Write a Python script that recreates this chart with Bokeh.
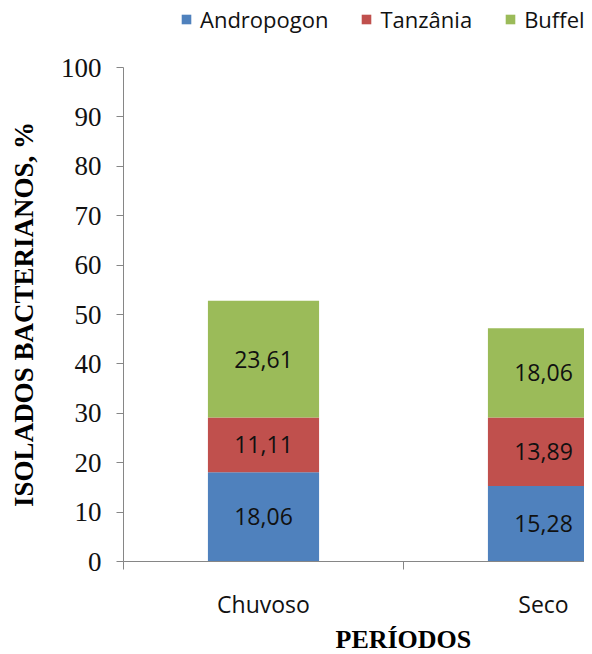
from bokeh.plotting import figure
from bokeh.models import (ColumnDataSource, Range1d, FixedTicker, Legend, LegendItem, Title)
from bokeh.layouts import column
from bokeh.core.properties import value
from bokeh.embed import file_html
from bokeh.resources import INLINE

periods = ["Chuvoso", "Seco"]
series = ["Andropogon", "Tanzânia", "Buffel"]
andropogon = [18.06, 15.28]
tanzania = [11.11, 13.89]
buffel = [23.61, 18.06]
y_ticks = [0, 10, 20, 30, 40, 50, 60, 70, 80, 90, 100]
colors = ["#4F81BD", "#C0504D", "#9BBB59"]

xpos = [i + 0.5 for i in range(len(periods))]
src = ColumnDataSource(dict(x=xpos, a=andropogon, t=tanzania, b=buffel))

W = 584
LEG_H = 40
SANS = "Open Sans"
p = figure(width=W, height=654 - LEG_H, output_backend="svg", toolbar_location=None,
           x_range=Range1d(0, (W - 123) / 280), y_range=Range1d(0, 100),
           min_border_left=123, min_border_right=0, min_border_top=67 - LEG_H,
           min_border_bottom=93)
p.outline_line_color = None
p.xgrid.visible = False
p.ygrid.visible = False

rs = p.vbar_stack(["a", "t", "b"], x="x", width=0.397, source=src, color=colors, line_color=None)

# value labels
lx, ly, lt = [], [], []
for i, xv in enumerate(xpos):
    base = 0
    for vals in (andropogon, tanzania, buffel):
        v = vals[i]
        lx.append(xv)
        ly.append(base + v / 2)
        lt.append(f"{v:.2f}".replace(".", ","))
        base += v
p.text(x=lx, y=ly, text=lt, text_align="center", text_baseline="middle",
       text_font=value(SANS), text_font_size="23px", text_color="#111111")

axis_color = "#868686"
# y axis
ya = p.yaxis[0]
ya.ticker = FixedTicker(ticks=y_ticks)
ya.major_tick_out = 7
ya.major_tick_in = 0
ya.minor_tick_out = 0
ya.minor_tick_in = 0
ya.axis_line_color = axis_color
ya.major_tick_line_color = axis_color
ya.major_label_text_font = "Liberation Serif"
ya.major_label_text_font_size = "27px"
ya.major_label_text_color = "#111111"
ya.major_label_standoff = 15
ya.axis_label = "ISOLADOS BACTERIANOS, %"
ya.axis_label_text_font = "Liberation Serif"
ya.axis_label_text_font_style = "bold"
ya.axis_label_text_font_size = "27px"
ya.axis_label_text_color = "#000000"
ya.axis_label_standoff = 19

# x axis
xa = p.xaxis[0]
xa.ticker = FixedTicker(ticks=xpos, minor_ticks=[0, 1, 2])
xa.major_label_overrides = {xpos[i]: periods[i] for i in range(len(periods))}
xa.major_tick_out = 0
xa.major_tick_in = 0
xa.minor_tick_out = 8
xa.minor_tick_in = 0
xa.axis_line_color = axis_color
xa.minor_tick_line_color = axis_color
xa.major_label_text_font = SANS
xa.major_label_text_font_size = "23px"
xa.major_label_text_color = "#111111"
xa.major_label_standoff = 18

p.add_layout(Title(text="PERÍODOS", align="left", offset=212, standoff=0,
                   text_font="Liberation Serif", text_font_style="bold",
                   text_font_size="26px", text_color="#000000"), "below")

# legend strip above the chart (its frame is aligned with the chart's frame)
lg = figure(width=W, height=LEG_H, output_backend="svg", toolbar_location=None,
            x_range=Range1d(0, 1), y_range=Range1d(0, 1),
            x_axis_type=None, y_axis_type=None, min_border=0)
lg.outline_line_color = None
lg.xgrid.visible = False
lg.ygrid.visible = False
lrs = [lg.vbar(x=[-10], top=[-10], bottom=[-20], width=0.1, color=c, line_color=None)
       for c in colors]
items = [LegendItem(label=series[i], renderers=[lrs[i]]) for i in range(3)]
legend = Legend(items=items, orientation="horizontal", location=(180 - 123, 6),
                glyph_width=12, glyph_height=12, label_standoff=8, spacing=32,
                padding=0, margin=0, border_line_color=None, background_fill_alpha=0,
                label_text_font=SANS, label_text_font_size="22px",
                label_text_color="#111111")
lg.add_layout(legend)

layout = column(lg, p, spacing=0)
open("out.html", "w").write(file_html(layout, INLINE))
